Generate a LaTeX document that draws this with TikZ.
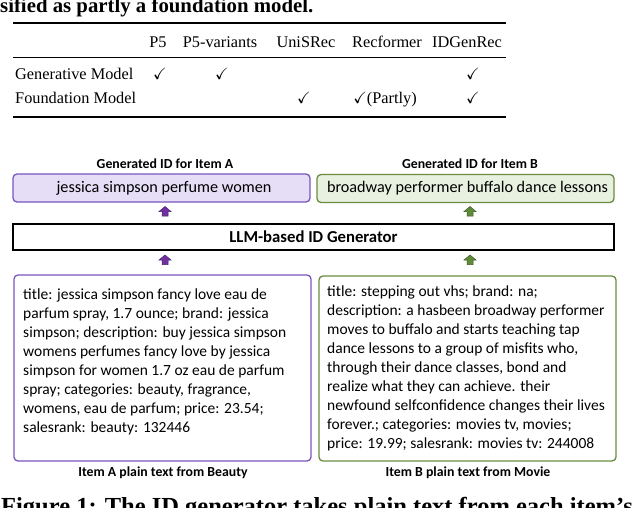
\documentclass[tikz,border=0pt]{standalone}
\usepackage{amssymb}
\usepackage{fontspec}
\setmainfont{Liberation Serif}
\newfontfamily\calib{Carlito}
\usetikzlibrary{calc}
\definecolor{purpB}{HTML}{7A55BE}
\definecolor{purpF}{HTML}{E6DDF6}
\definecolor{purpA}{HTML}{7030A0}
\definecolor{purpD}{HTML}{4B2370}
\definecolor{grnB}{HTML}{6A8C42}
\definecolor{grnF}{HTML}{E8F1DF}
\definecolor{grnA}{HTML}{5E8A3A}
\definecolor{grnD}{HTML}{3C5A22}
\tikzset{
  serifbig/.style={font=\fontsize{20.8}{24}\selectfont\bfseries, inner sep=0pt},
  tabtxt/.style={font=\fontsize{16.3}{19}\selectfont, inner sep=0pt, anchor=base},
  lab/.style={font=\calib\fontsize{13.8}{16}\selectfont\bfseries, inner sep=0pt},
  idbox/.style={rounded corners=4pt, line width=1.3pt, minimum height=28pt, inner sep=0pt,
    font=\calib\fontsize{16.2}{18}\selectfont},
  txtbox/.style={rounded corners=4pt, line width=1.3pt, inner sep=0pt, fill=white},
  bodytxt/.style={font=\calib\fontsize{15.5}{19}\selectfont, inner sep=0pt, align=left, anchor=north west},
  fatarrow/.pic={
    \path[pic actions, line width=0.5pt] (-3,4.5) -- (-3,0) -- (-6,0) -- (0,-5) -- (6,0) -- (3,0) -- (3,4.5) -- cycle;
  },
}
\begin{document}
\begin{tikzpicture}[x=1pt,y=-1pt]
\useasboundingbox (0,0) rectangle (640,507);
\clip (0,0) rectangle (640,507);
\fill[white] (0,0) rectangle (640,507);

% running text
\node[serifbig, anchor=base west] (toptxt) at (0,12) {sified as partly a foundation model.};
\node[anchor=base west, inner sep=0pt, font=\fontsize{24.5}{28}\selectfont\bfseries] (figcap) at (1,514.5) {Figure 1: The ID generator takes plain text from each item's};

% table
\draw[line width=1.6pt] (13,23) -- (506,23);
\draw[line width=1.0pt] (13,57) -- (506,57);
\draw[line width=1.6pt] (13,117) -- (506,117);
\node[tabtxt] (h1) at (158,47) {P5};
\node[tabtxt] (h2) at (220,47) {P5-variants};
\node[tabtxt] (h3) at (306,47) {UniSRec};
\node[tabtxt] (h4) at (387,47) {Recformer};
\node[tabtxt] (h5) at (467,47) {IDGenRec};
\node[tabtxt, anchor=base west] (r1) at (15,79) {Generative Model};
\node[tabtxt, anchor=base west] (r2) at (15,103) {Foundation Model};
\node[tabtxt] (c11) at (160,79) {$\checkmark$};
\node[tabtxt] (c12) at (222,79) {$\checkmark$};
\node[tabtxt] (c15) at (473,79) {$\checkmark$};
\node[tabtxt] (c23) at (304,103) {$\checkmark$};
\node[tabtxt] (c24) at (385,103) {$\checkmark$(Partly)};
\node[tabtxt] (c25) at (473,103) {$\checkmark$};

% diagram
\node[lab] (labA) at (165,164) {Generated ID for Item A};
\node[lab] (labB) at (470,164) {Generated ID for Item B};
\node[idbox, draw=purpB, fill=purpF, minimum width=297pt] (idA) at (161.5,188) {\hspace*{5pt}jessica simpson perfume women};
\node[idbox, draw=grnB, fill=grnF, minimum width=297pt] (idB) at (465.5,188.5) {\hspace*{4pt}broadway performer buffalo dance lessons};

\node[draw=black, line width=1.1pt, minimum width=601pt, minimum height=26pt, inner sep=0pt,
  font=\calib\fontsize{16.7}{18}\selectfont\bfseries] (gen) at (313.5,237) {LLM-based ID Generator};

\coordinate (arA1) at (165,211.5);
\coordinate (arB1) at (470,211.5);
\coordinate (arA2) at (165,260);
\coordinate (arB2) at (470,260);
\pic[fill=purpA, draw=purpD] at (arA1) {fatarrow};
\pic[fill=grnA, draw=grnD] at (arB1) {fatarrow};
\pic[fill=purpA, draw=purpD] at (arA2) {fatarrow};
\pic[fill=grnA, draw=grnD] at (arB2) {fatarrow};

\node[txtbox, draw=purpB, minimum width=297pt, minimum height=186pt] (boxA) at (162.5,368) {};
\node[txtbox, draw=grnB, minimum width=297pt, minimum height=185pt] (boxB) at (467.5,368.5) {};

\node[bodytxt] (txtA) at (23,289) {title: jessica simpson fancy love eau de\\
parfum spray, 1.7 ounce; brand: jessica\\
simpson; description: buy jessica simpson\\
womens perfumes fancy love by jessica\\
simpson for women 1.7 oz eau de parfum\\
spray; categories: beauty, fragrance,\\
womens, eau de parfum; price: 23.54;\\
salesrank: beauty: 132446};

\node[bodytxt] (txtB) at (327,286) {title: stepping out vhs; brand: na;\\
description: a hasbeen broadway performer\\
moves to buffalo and starts teaching tap\\
dance lessons to a group of misfits who,\\
through their dance classes, bond and\\
realize what they can achieve. their\\
newfound selfconfidence changes their lives\\
forever.; categories: movies tv, movies;\\
price: 19.99; salesrank: movies tv: 244008};

\node[lab] (capA) at (163,473) {Item A plain text from Beauty};
\node[lab] (capB) at (468,473) {Item B plain text from Movie};
\end{tikzpicture}
\end{document}
